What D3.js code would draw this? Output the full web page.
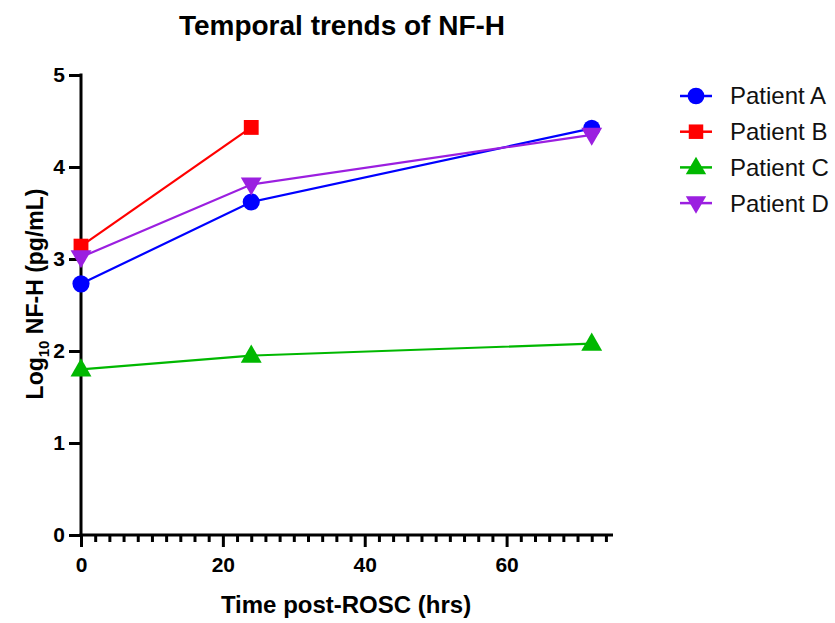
<!DOCTYPE html>
<html>
<head>
<meta charset="utf-8">
<script src="https://cdn.jsdelivr.net/npm/d3@7"></script>
<style>
  body { margin: 0; background: #fff; }
  text { font-family: "Liberation Sans", Arial, sans-serif; }
</style>
</head>
<body>
<svg id="chart" width="835" height="623"></svg>
<script>
const hours = [0, 24, 72];
const patients = ["Patient A", "Patient B", "Patient C", "Patient D"];
const patientA = [2.73, 3.62, 4.42];
const patientB = [3.14, 4.43];
const patientC = [1.80, 1.95, 2.08];
const patientD = [3.02, 3.81, 4.35];
const colours = ["#0000ff", "#ff0000", "#00b800", "#9b1fe0"];
const shapes = ["circle", "square", "triangle", "triangleDown"];
const xTicks = [0, 20, 40, 60];
const yTicks = [0, 1, 2, 3, 4, 5];

const series = [patientA, patientB, patientC, patientD].map((vals, i) => ({
    name: patients[i],
    colour: colours[i],
    shape: shapes[i],
    points: vals.map((v, j) => [hours[j], v])
}));

const margin = { top: 75, right: 223, bottom: 88, left: 81 };
const height = 623 - margin.top - margin.bottom;

const svg = d3.select("#chart");
const chartArea = svg.append("g")
    .attr("transform", `translate(${margin.left},${margin.top})`);

const xScale = d3.scaleLinear().domain([0, 75]).range([0, 532]);
const yScale = d3.scaleLinear().domain([0, 5]).range([height, 0]);

const symbolFor = (shape, size) => {
    if (shape === "circle") return d3.symbol().type(d3.symbolCircle).size(size * 1.1)();
    if (shape === "square") return d3.symbol().type(d3.symbolSquare).size(size * 1.05)();
    return d3.symbol().type(d3.symbolTriangle).size(size * 0.9)();
};
const markerTransform = (d, s) => `translate(${xScale(d[0])},${yScale(d[1])})${s.shape === "triangleDown" ? " rotate(180)" : ""}${s.shape.startsWith("triangle") ? " translate(0,1)" : ""}`;

// axes
const xAxis = chartArea.append("g")
    .attr("transform", `translate(0,${height})`);
xAxis.append("g")
    .call(d3.axisBottom(xScale).tickValues(d3.range(2, 75, 2).filter(d => d % 20 !== 0)).tickSize(7).tickFormat(""))
    .call(g => g.select(".domain").remove())
    .selectAll("line").attr("stroke-width", 3).attr("stroke", "#000");
xAxis.append("g")
    .call(d3.axisBottom(xScale).tickValues(xTicks).tickSize(12).tickSizeOuter(0).tickPadding(10).tickFormat(d3.format("d")))
    .call(g => g.select(".domain").attr("stroke-width", 3).attr("d", `M-1.5,0H${xScale(75)}`))
    .call(g => g.selectAll("line").attr("stroke-width", 3))
    .call(g => g.selectAll("text")
        .style("font-size", "21px").attr("font-weight", "bold").attr("fill", "#000"));

chartArea.append("g")
    .call(d3.axisLeft(yScale).tickValues(yTicks).tickSize(12).tickSizeOuter(0).tickPadding(4).tickFormat(d3.format("d")))
    .call(g => g.select(".domain").attr("stroke-width", 3).attr("d", `M0,${height + 1.5}V-1.5`))
    .call(g => g.selectAll("line").attr("stroke-width", 3))
    .call(g => g.selectAll("text")
        .style("font-size", "21px").attr("font-weight", "bold").attr("fill", "#000"));

// lines
series.forEach(s => {
    chartArea.append("path")
        .datum(s.points)
        .attr("fill", "none")
        .attr("stroke", s.colour)
        .attr("stroke-width", 2.2)
        .attr("d", d3.line().x(d => xScale(d[0])).y(d => yScale(d[1])));
});

// markers
series.forEach(s => {
    chartArea.selectAll(null)
        .data(s.points)
        .join("path")
        .attr("fill", s.colour)
        .attr("transform", d => markerTransform(d, s))
        .attr("d", symbolFor(s.shape, 210));
});

// title and axis labels
svg.append("text")
    .attr("x", 342).attr("y", 35)
    .attr("text-anchor", "middle")
    .style("font-size", "28px").attr("font-weight", "bold")
    .text("Temporal trends of NF-H");

svg.append("text")
    .attr("x", 346).attr("y", 613)
    .attr("text-anchor", "middle")
    .style("font-size", "24px").attr("font-weight", "bold")
    .text("Time post-ROSC (hrs)");

const yLabel = svg.append("text")
    .attr("transform", "translate(43,294) rotate(-90)")
    .attr("text-anchor", "middle")
    .style("font-size", "23px").attr("font-weight", "bold");
yLabel.append("tspan").text("Log");
yLabel.append("tspan").style("font-size", "15px").attr("dy", 6).text("10");
yLabel.append("tspan").attr("dy", -6).text(" NF-H (pg/mL)");

// legend
const legend = svg.append("g").attr("transform", "translate(680,96)");
const rows = legend.selectAll("g")
    .data(series)
    .join("g")
    .attr("transform", (d, i) => `translate(0,${i * 35.7})`);
rows.append("line")
    .attr("x1", 0).attr("x2", 32)
    .attr("stroke", d => d.colour).attr("stroke-width", 2.5);
rows.append("path")
    .attr("fill", d => d.colour)
    .attr("transform", d => `translate(16,0)${d.shape === "triangleDown" ? " rotate(180)" : ""}${d.shape.startsWith("triangle") ? " translate(0,1)" : ""}`)
    .attr("d", d => symbolFor(d.shape, 200));
rows.append("text")
    .attr("x", 50).attr("y", 0)
    .attr("dy", "0.35em")
    .style("font-size", "24px")
    .attr("fill", "#111")
    .text(d => d.name);
</script>
</body>
</html>
